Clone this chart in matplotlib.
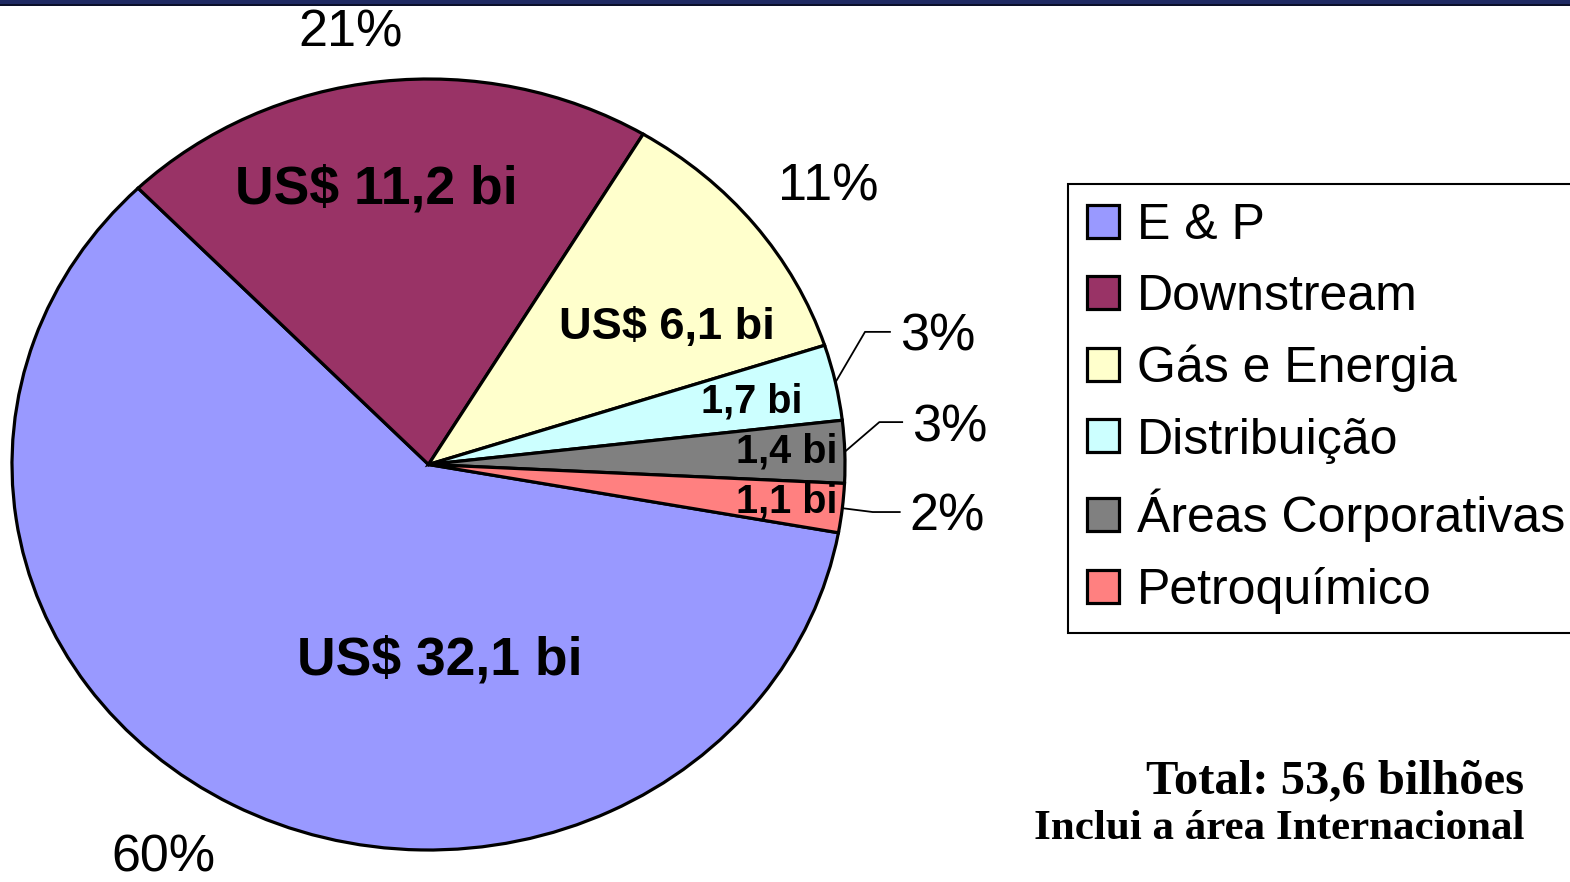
import numpy as np
import matplotlib
matplotlib.use("Agg")
import matplotlib.pyplot as plt
from matplotlib.patches import Patch, Rectangle

# ---------------- data ----------------
categories = ['E & P', 'Downstream', 'Gás e Energia', 'Distribuição',
              'Áreas Corporativas', 'Petroquímico']
values = [32.1, 11.2, 6.1, 1.7, 1.4, 1.1]          # US$ bilhões
value_labels = ['US$ 32,1 bi', 'US$ 11,2 bi', 'US$ 6,1 bi', '1,7 bi', '1,4 bi', '1,1 bi']
colors = ['#9999FF', '#993366', '#FFFFCC', '#CCFFFF', '#808080', '#FF8080']
total_text = 'Total: 53,6 bilhões'
note_text = 'Inclui a área Internacional'

plt.rcParams['font.family'] = ['Liberation Sans', 'DejaVu Sans']

W, H = 1570, 882
fig = plt.figure(figsize=(W / 100, H / 100), dpi=100)
fig.patch.set_facecolor('white')

# top banner line
fig.add_artist(Rectangle((0, 1 - 4.5 / H), 1, 4.5 / H, transform=fig.transFigure,
                         facecolor='#1F2A63', edgecolor='none'))
fig.add_artist(Rectangle((0, 1 - 6 / H), 1, 1.6 / H, transform=fig.transFigure,
                         facecolor='#0A0F2A', edgecolor='none'))

# pie axes (elliptical pie, as in the original)
px_l, px_r, px_t, px_b = 12, 845, 79, 850
ax = fig.add_axes([px_l / W, 1 - px_b / H, (px_r - px_l) / W, (px_b - px_t) / H])
wedges, _ = ax.pie(values, colors=colors, startangle=-10.2, counterclock=False,
                   radius=1.0, wedgeprops=dict(edgecolor='black', linewidth=2.3))
for w in wedges:
    w.set_clip_on(False)
ax.set_aspect('auto')
ax.set_xlim(-1, 1)
ax.set_ylim(-1, 1)
ax.axis('off')

total = sum(values)
pct_labels = ['%d%%' % round(v / total * 100) for v in values]

def mid_angle(w):
    return 0.5 * (w.theta1 + w.theta2)

def polar(r, ang):
    a = np.deg2rad(ang)
    return r * np.cos(a), r * np.sin(a)

# inner value labels: (radius, angular offset from wedge middle, font size)
inner_layout = [(0.508, 31.1, 38.5), (0.723, 3.3, 38.5), (0.675, -6.6, 32.5),
                (0.793, -0.5, 28.5), (0.861, 0.4, 28.5), (0.866, 0.1, 28.5)]
for w, lab, (r, dth, fs) in zip(wedges, value_labels, inner_layout):
    x, y = polar(r, mid_angle(w) + dth)
    ax.text(x, y, lab, ha='center', va='center', fontsize=fs, fontweight='bold',
            color='black')

# outer percentage labels for the big slices
outer_layout = {0: (1.203, -4.0), 1: (1.135, 2.9), 2: (1.199, -1.6)}
for i, (r, dth) in outer_layout.items():
    x, y = polar(r, mid_angle(wedges[i]) + dth)
    ax.text(x, y, pct_labels[i], ha='center', va='center', fontsize=37.5, color='black')

# leader lines for the small slices: (elbow dx, elbow dy, horizontal length)
leader_layout = {3: (0.071, 0.131, 0.062), 4: (0.083, 0.077, 0.057), 5: (0.073, -0.010, 0.067)}
for i, (ex, ey, hl) in leader_layout.items():
    x0, y0 = polar(1.0, mid_angle(wedges[i]))
    x1, y1 = x0 + ex, y0 + ey
    x2 = x1 + hl
    ax.plot([x0, x1, x2], [y0, y1, y1], color='black', lw=1.3, clip_on=False,
            solid_capstyle='butt')
    ax.text(x2 + 0.022, y1 - 0.014, pct_labels[i], ha='left', va='center',
            fontsize=37.5, color='black')

# legend
handles = [Patch(facecolor=c, edgecolor='black', linewidth=2.3) for c in colors]
leg = fig.legend(handles, categories, loc='upper left',
                 bbox_to_anchor=(1068 / W, 1 - 184 / H), bbox_transform=fig.transFigure,
                 fontsize=36, frameon=True, fancybox=False, shadow=False,
                 borderpad=0.38, labelspacing=0.5, handlelength=0.64,
                 handleheight=0.64, handletextpad=0.36, borderaxespad=0.0)
fr = leg.get_frame()
fr.set_edgecolor('black')
fr.set_linewidth(1.5)
fr.set_facecolor('white')
fr.set_alpha(1)

# bottom-right notes
fig.text(1524 / W, 1 - 781 / H, total_text, ha='right', va='center', fontsize=35,
         fontweight='bold', family=['Liberation Serif', 'DejaVu Serif'])
fig.text(1524 / W, 1 - 829 / H, note_text, ha='right', va='center', fontsize=31,
         fontweight='bold', family=['Liberation Serif', 'DejaVu Serif'])

fig.savefig('out.png', dpi=100, facecolor='white')
